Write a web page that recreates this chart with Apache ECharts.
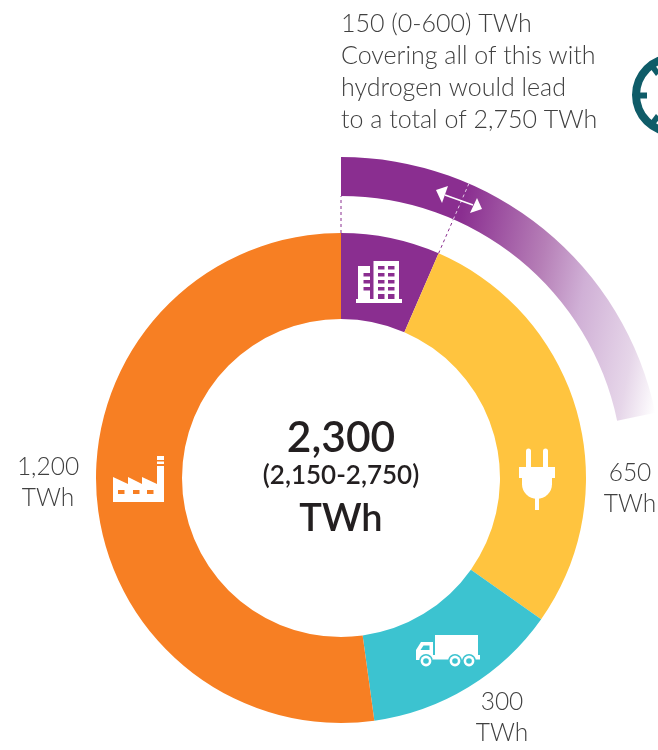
<!DOCTYPE html>
<html>
<head>
<meta charset="utf-8">
<style>html,body{margin:0;padding:0;background:#fff}#c{width:658px;height:750px}</style>
<script src="https://cdn.jsdelivr.net/npm/echarts@6/dist/echarts.min.js"></script>
</head>
<body>
<div id="c"></div>
<script>
const categories = ['Buildings', 'Power', 'Transport', 'Industry'];
const values = [150, 650, 300, 1200];
const colors = ['#8a2e90', '#ffc43f', '#3cc3d0', '#f77f23'];
const outerArcValues = [500, 1800];
const totalLines = ['2,300', '(2,150-2,750)', 'TWh'];
const noteLines = ['150 (0-600) TWh', 'Covering all of this with', 'hydrogen would lead', 'to a total of 2,750 TWh'];
const sliceLabels = [['650', 'TWh'], ['300', 'TWh'], ['1,200', 'TWh']];

const W = '#ffffff', C = [341, 478], FONT = 'Lato', Z = 10;
const total = values.reduce((a, b) => a + b, 0);
const pt = (deg, r) => [C[0] + r * Math.sin(deg * Math.PI / 180), C[1] - r * Math.cos(deg * Math.PI / 180)];
const purpleAngle = values[0] / total * 360;

const rect = (x, y, w, h, fill) => ({ type: 'rect', z: Z, silent: true, shape: { x, y, width: w, height: h }, style: { fill } });
const poly = (points, fill) => ({ type: 'polygon', z: Z, silent: true, shape: { points }, style: { fill } });
const circ = (cx, cy, r, fill) => ({ type: 'circle', z: Z, silent: true, shape: { cx, cy, r }, style: { fill } });
const txt = (s, x, y, size, weight, fill, align) => ({
  type: 'text', z: Z, silent: true, x, y,
  style: { text: s, fontFamily: FONT, fontSize: size, fontWeight: weight, fill, textAlign: align || 'center', textVerticalAlign: 'middle' }
});
const dash = (a, b, stroke) => ({
  type: 'line', z: Z, silent: true,
  shape: { x1: a[0], y1: a[1], x2: b[0], y2: b[1] },
  style: { stroke, lineWidth: 1, lineDash: [3, 3] }
});

const g = [];
// note
noteLines.forEach((s, i) => g.push(txt(s, 341, 24 + i * 32, 25, 300, '#404040', 'left')));
// gear fragment
g.push({ type: 'ring', z: Z, silent: true, shape: { cx: 673, cy: 95, r: 41, r0: 33 }, style: { fill: '#0f5c68' } });
g.push(rect(638, 92.5, 9, 6, '#0f5c68'));
g.push(poly([[650, 68], [654, 64], [660, 72], [656, 76]], '#0f5c68'));
g.push(poly([[650, 122], [654, 126], [660, 118], [656, 114]], '#0f5c68'));
// dashed guides
g.push(dash(pt(0, 245), pt(0, 282), '#8a2e90'));
g.push(dash(pt(purpleAngle, 245), pt(purpleAngle, 282), '#8a2e90'));
g.push(dash(pt(purpleAngle, 282), pt(purpleAngle, 321), '#e6cfe8'));
// arrow
g.push({ type: 'line', z: Z, silent: true, shape: { x1: 445, y1: 195, x2: 473, y2: 205 }, style: { stroke: W, lineWidth: 1.6 } });
g.push(poly([[436, 190], [448, 186], [442, 203]], W));
g.push(poly([[482, 209], [477, 198], [470, 213]], W));
// building icon
const P = colors[0];
g.push(rect(356, 299, 46, 4, W), rect(373.5, 261, 25.5, 39, W), rect(358, 266, 12, 34, W));
[266, 273, 280, 287, 294].forEach((y, i) => {
  const h = i === 4 ? 5 : 3.5;
  g.push(rect(378, y, 6.5, h, P), rect(388, y, 6.5, h, P));
});
[273, 280, 287].forEach(y => g.push(rect(363.5, y, 6.5, 3.5, P)));
// plug icon
g.push(rect(526, 451, 5, 17, W), rect(543, 451, 5, 17, W), rect(519, 467, 36, 11, W), rect(522, 477, 30, 8, W),
  circ(537, 484, 15, W), rect(535, 495, 4, 15, W));
g.push(circ(528.5, 451, 2.5, W), circ(545.5, 451, 2.5, W));
// truck icon
const T = colors[2];
g.push(rect(435, 635, 43, 21, W), rect(416, 655, 64, 4.5, W),
  poly([[416, 650], [421, 642], [433, 642], [433, 660], [416, 660]], W),
  poly([[420.5, 650], [423.5, 645.5], [429.5, 645.5], [429.5, 650]], T));
[426, 455, 469].forEach(x => g.push(circ(x, 661, 7, T), circ(x, 661, 5.4, W), circ(x, 661, 2.8, T)));
// factory icon
const O = colors[3];
g.push(rect(113, 484, 51, 18, W), rect(157, 466, 7, 20, W), rect(157, 456, 7, 4, W), rect(157, 461.5, 7, 2.5, W),
  poly([[113, 477], [128, 484], [113, 484]], W), poly([[128, 477], [142, 484], [128, 484]], W), poly([[142, 477], [157, 484], [142, 484]], W));
[118, 133, 147].forEach(x => g.push(rect(x, 490, 6.5, 4, O)));
// centre
g.push(txt(totalLines[0], C[0], 438, 42.5, 600, '#231f20'));
g.push(txt(totalLines[1], C[0], 476, 26, 600, '#231f20'));
g.push(txt(totalLines[2], C[0], 519, 38, 600, '#231f20'));
// slice labels
[[630, 473], [502, 702], [48, 467]].forEach((p, i) => {
  g.push(txt(sliceLabels[i][0], p[0], p[1], 24.5, 300, '#404040'));
  g.push(txt(sliceLabels[i][1], p[0], p[1] + 31, 24.5, 300, '#404040'));
});

const chart = echarts.init(document.getElementById('c'), null, { renderer: 'canvas', width: 658, height: 750 });
chart.setOption({
  animation: false,
  backgroundColor: '#ffffff',
  tooltip: { show: false },
  graphic: { elements: g },
  series: [
    {
      type: 'pie', center: C, radius: [159, 245], startAngle: 90, clockwise: true, silent: true,
      label: { show: false }, labelLine: { show: false }, emphasis: { disabled: true },
      data: categories.map((name, i) => ({ name, value: values[i], itemStyle: { color: colors[i] } }))
    },
    {
      type: 'pie', center: C, radius: [282, 321], startAngle: 90, clockwise: true, silent: true,
      label: { show: false }, labelLine: { show: false }, emphasis: { disabled: true },
      data: [
        { name: 'Upper range', value: outerArcValues[0], itemStyle: {
          color: { type: 'linear', global: true, x: 465, y: 195, x2: 690, y2: 241,
            colorStops: [{ offset: 0, color: '#8a2e90' }, { offset: 0.386, color: '#b67fb7' }, { offset: 0.587, color: '#d0b0d6' }, { offset: 0.85, color: '#e6d6e9' }, { offset: 1, color: '#ffffff' }] } } },
        { name: 'Rest', value: outerArcValues[1], itemStyle: { color: 'rgba(0,0,0,0)' } }
      ]
    }
  ]
});
</script>
</body>
</html>
